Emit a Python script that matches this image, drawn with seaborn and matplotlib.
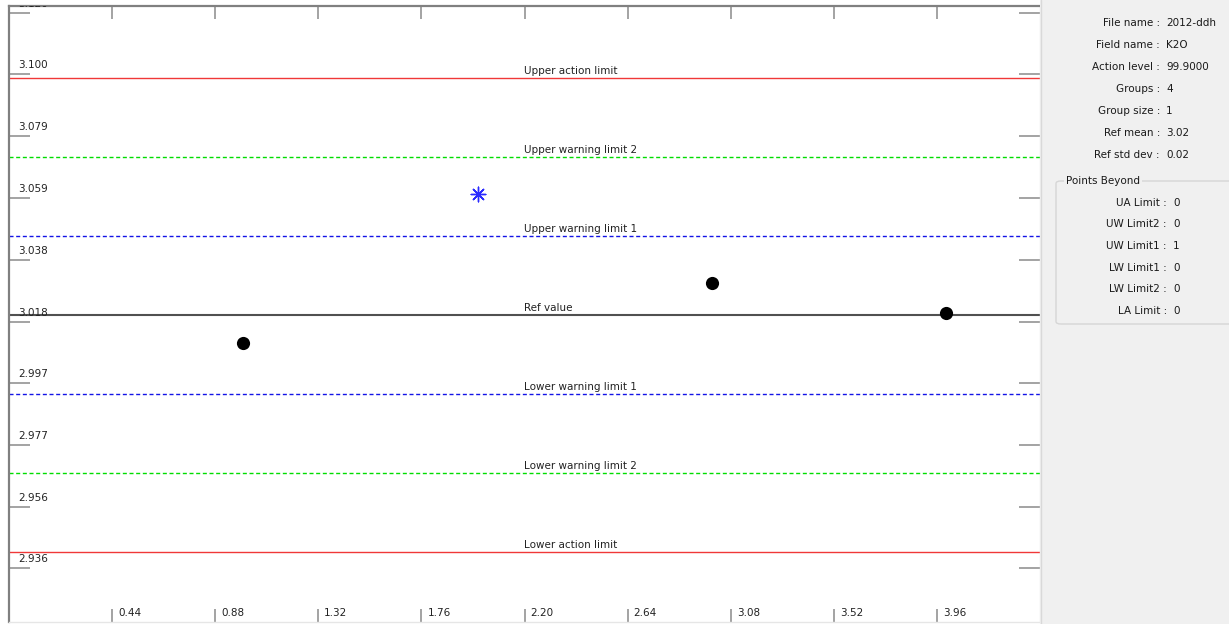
import matplotlib
matplotlib.use("Agg")
import matplotlib.pyplot as plt
import seaborn as sns
import pandas as pd
from matplotlib.patches import Rectangle, FancyBboxPatch

sns.set_theme(style="white")
plt.rcParams['font.family'] = ['DejaVu Sans']

# Group means plotted on the control chart
group_no = [1, 2, 3, 4]
group_val = [3.0109, 3.0603, 3.0308, 3.0208]

# Control limits
limit_names = ["Upper action limit", "Upper warning limit 2", "Upper warning limit 1",
               "Ref value", "Lower warning limit 1", "Lower warning limit 2",
               "Lower action limit"]
limit_values = [3.0987, 3.0726, 3.0464, 3.0202, 2.9940, 2.9678, 2.9417]

# Axis ticks
y_ticks = [3.1203, 3.1000, 3.0795, 3.0590, 3.0384, 3.0179, 2.9977, 2.9771, 2.9566, 2.9363]
y_tick_labels = ["3.120", "3.100", "3.079", "3.059", "3.038", "3.018", "2.997",
                 "2.977", "2.956", "2.936"]
x_ticks = [0.44, 0.88, 1.32, 1.76, 2.20, 2.64, 3.08, 3.52, 3.96]
x_tick_labels = ["0.44", "0.88", "1.32", "1.76", "2.20", "2.64", "3.08", "3.52", "3.96"]

# Summary panel
info_keys = ["File name", "Field name", "Action level", "Groups", "Group size",
             "Ref mean", "Ref std dev"]
info_vals = ["2012-ddh", "K2O", "99.9000", "4", "1", "3.02", "0.02"]
beyond_title = "Points Beyond"
beyond_keys = ["UA Limit", "UW Limit2", "UW Limit1", "LW Limit1", "LW Limit2", "LA Limit"]
beyond_vals = ["0", "0", "1", "0", "0", "0"]

W, H = 1229, 624
fig = plt.figure(figsize=(W / 100, H / 100), dpi=100)
fig.patch.set_facecolor("white")

# right-hand info panel background
fig.patches.append(Rectangle((1040 / W, 0), (W - 1040) / W, 1, transform=fig.transFigure,
                             facecolor="#f0f0f0", edgecolor="none", zorder=0))
fig.lines.append(plt.Line2D([1040.5 / W, 1040.5 / W], [0, 1], transform=fig.transFigure,
                            color="#d9d9d9", lw=1))

ax = fig.add_axes([9 / W, 2 / H, (1040 - 9) / W, (622 - 6) / H])
ax.set_facecolor("white")
ax.set_xlim(0, 4.4)
ax.set_ylim(2.9184, 3.1226)

dash = (0, (2.9, 1.9))
line_styles = {
    "Upper action limit": dict(color="#f03838", ls="-", lw=1.0),
    "Upper warning limit 2": dict(color="#00dd00", ls=dash, lw=1.0),
    "Upper warning limit 1": dict(color="#1414e6", ls=dash, lw=1.0),
    "Ref value": dict(color="#505050", ls="-", lw=1.5),
    "Lower warning limit 1": dict(color="#1414e6", ls=dash, lw=1.0),
    "Lower warning limit 2": dict(color="#00dd00", ls=dash, lw=1.0),
    "Lower action limit": dict(color="#f03838", ls="-", lw=1.0),
}
for name, val in zip(limit_names, limit_values):
    ax.axhline(val, zorder=2, **line_styles[name])
    ax.annotate(name, xy=(2.2, val), xytext=(0, 4), textcoords="offset pixels",
                ha="left", va="baseline", fontsize=7.5, color="#222222")

df = pd.DataFrame({"group": group_no, "value": group_val})
uw1 = limit_values[2]
lw1 = limit_values[4]
inside = df[(df["value"] <= uw1) & (df["value"] >= lw1)]
outside = df[(df["value"] > uw1) | (df["value"] < lw1)]
sns.scatterplot(data=inside, x="group", y="value", ax=ax, color="black", s=90,
                linewidth=0, zorder=4)
sns.scatterplot(data=outside, x="group", y="value", ax=ax, marker=(8, 2, 0),
                color="#2a2aff", edgecolor="#2a2aff", s=110, linewidth=1.0, zorder=4)
ax.set_xlabel("")
ax.set_ylabel("")

# ticks drawn inside the frame, labels placed next to them
ax.set_xticks(x_ticks)
ax.set_yticks(y_ticks)
ax.set_xticklabels([])
ax.set_yticklabels([])
ax.tick_params(axis="y", which="both", direction="in", length=15, width=1.1,
               color="#8a8a8a", left=True, right=True)
ax.tick_params(axis="x", which="both", direction="in", length=9.5, width=1.1,
               color="#8a8a8a", bottom=True, top=True)

for v, lab in zip(y_ticks, y_tick_labels):
    t = ax.annotate(lab, xy=(0, v), xycoords=("axes fraction", "data"),
                    xytext=(9, 9), textcoords="offset pixels", ha="left", va="center",
                    fontsize=7.5, color="#222222", annotation_clip=False)
    t.set_clip_on(True)
    t.set_clip_box(ax.bbox)
for v, lab in zip(x_ticks, x_tick_labels):
    ax.annotate(lab, xy=(v, 0), xycoords=("data", "axes fraction"),
                xytext=(6, 9), textcoords="offset pixels", ha="left", va="center",
                fontsize=7.5, color="#222222")

for side in ["left", "top"]:
    ax.spines[side].set_color("#808080")
    ax.spines[side].set_linewidth(1.6)
ax.spines["right"].set_color("#e6e6e6")
ax.spines["right"].set_linewidth(1)
ax.spines["bottom"].set_color("#e6e6e6")
ax.spines["bottom"].set_linewidth(1)

# info panel text
row_y = [23.3, 45.5, 67.5, 89.3, 111.2, 133.2, 155.0]
for y, k, v in zip(row_y, info_keys, info_vals):
    fig.text(1160 / W, 1 - y / H, k + " :", ha="right", va="center", fontsize=7.5,
             color="#1a1a1a")
    fig.text(1166 / W, 1 - y / H, v, ha="left", va="center", fontsize=7.5,
             color="#1a1a1a")

box = FancyBboxPatch((1056 / W, 1 - 324 / H), (1245 - 1056) / W, (324 - 181) / H,
                     boxstyle="round,pad=0,rounding_size=0.004",
                     transform=fig.transFigure, facecolor="none",
                     edgecolor="#d6d6d6", lw=1, zorder=1)
fig.patches.append(box)
fig.text(1066 / W, 1 - 180.5 / H, beyond_title, ha="left", va="center", fontsize=7.5,
         color="#1a1a1a", bbox=dict(facecolor="#f0f0f0", edgecolor="none", pad=1.5),
         zorder=3)
brow_y = [202.7, 224.3, 246.0, 267.7, 289.3, 311.5]
for y, k, v in zip(brow_y, beyond_keys, beyond_vals):
    fig.text(1167 / W, 1 - y / H, k + " :", ha="right", va="center", fontsize=7.5,
             color="#1a1a1a")
    fig.text(1173 / W, 1 - y / H, v, ha="left", va="center", fontsize=7.5,
             color="#1a1a1a")

fig.savefig("out.png", dpi=100, facecolor="white")
